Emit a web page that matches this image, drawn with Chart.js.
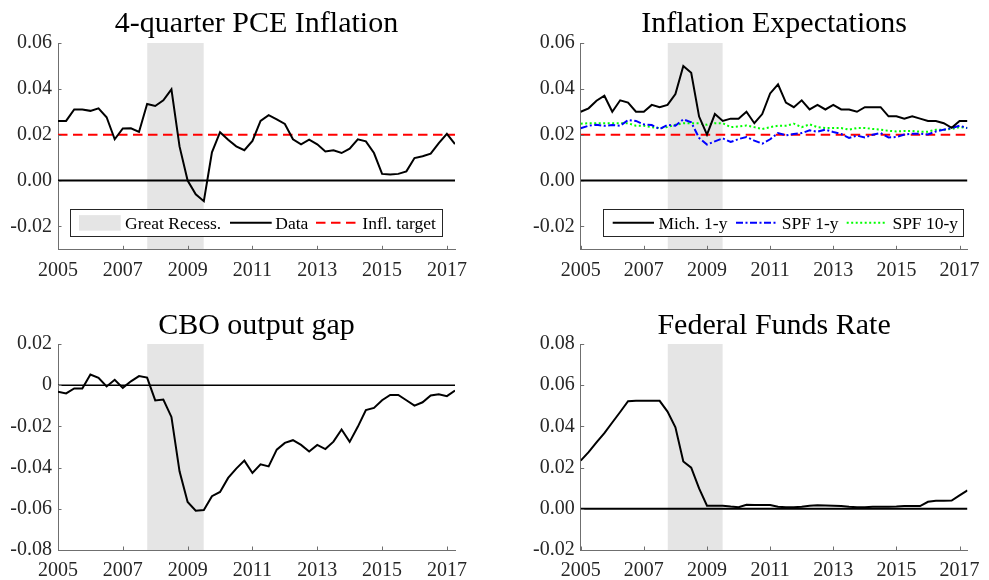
<!DOCTYPE html>
<html><head><meta charset="utf-8">
<script src="https://cdn.jsdelivr.net/npm/chart.js@4/dist/chart.umd.min.js"></script>
<style>
html,body{margin:0;padding:0;background:#fff;}
#wrap{position:relative;width:989px;height:580px;overflow:hidden;background:#fff}
canvas{position:absolute}
</style></head><body><div id="wrap">
<canvas id="c1" width="494" height="290" style="left:0;top:0"></canvas>
<canvas id="c2" width="499" height="290" style="left:490px;top:0"></canvas>
<canvas id="c3" width="494" height="290" style="left:0;top:290px"></canvas>
<canvas id="c4" width="499" height="290" style="left:490px;top:290px"></canvas>
</div>
<script>
// ---------- data ----------
const quarters = ['2005Q1','2005Q2','2005Q3','2005Q4','2006Q1','2006Q2','2006Q3','2006Q4',
'2007Q1','2007Q2','2007Q3','2007Q4','2008Q1','2008Q2','2008Q3','2008Q4',
'2009Q1','2009Q2','2009Q3','2009Q4','2010Q1','2010Q2','2010Q3','2010Q4',
'2011Q1','2011Q2','2011Q3','2011Q4','2012Q1','2012Q2','2012Q3','2012Q4',
'2013Q1','2013Q2','2013Q3','2013Q4','2014Q1','2014Q2','2014Q3','2014Q4',
'2015Q1','2015Q2','2015Q3','2015Q4','2016Q1','2016Q2','2016Q3','2016Q4',
'2017Q1','2017Q2'];
const yearTicks = [2005,2007,2009,2011,2013,2015,2017];
const recession = [2007.75, 2009.5];
const inflTarget = 0.02;

const pce = [0.026,0.026,0.031,0.031,0.0304,0.0315,0.0276,0.018,0.0227,0.0228,
0.0212,0.0334,0.0325,0.035,0.0398,0.0149,0.0,-0.006,-0.009,0.0123,
0.0211,0.0178,0.0149,0.0132,0.0173,0.026,0.0285,0.0267,0.0247,0.018,
0.0158,0.0178,0.0158,0.0127,0.0132,0.012,0.0139,0.018,0.0171,0.012,
0.0029,0.0026,0.0029,0.004,0.0098,0.0106,0.0117,0.0163,0.0204,0.0159];

const mich1y = [0.030,0.0315,0.0348,0.037,0.030,0.035,0.034,0.030,0.030,0.033,
0.032,0.033,0.0377,0.050,0.047,0.0279,0.020,0.029,0.026,0.027,
0.027,0.030,0.025,0.029,0.038,0.042,0.034,0.032,0.035,0.031,
0.033,0.031,0.033,0.031,0.031,0.030,0.032,0.032,0.032,0.028,
0.028,0.027,0.028,0.027,0.026,0.026,0.025,0.023,0.026,0.026];

const spf1y = [0.0228,0.0239,0.0243,0.0239,0.0242,0.0239,0.0264,0.026,0.0245,0.0242,
0.0225,0.0243,0.0239,0.0267,0.0254,0.0186,0.0157,0.0171,0.0184,0.0168,
0.0181,0.019,0.0174,0.0161,0.018,0.0207,0.0197,0.0203,0.0207,0.0219,
0.0213,0.0222,0.0212,0.0203,0.0186,0.0196,0.0188,0.02,0.0207,0.0188,
0.019,0.0201,0.0204,0.0204,0.0201,0.0214,0.0222,0.0229,0.0239,0.0229];

const spf10y = [0.0248,0.025,0.025,0.025,0.025,0.025,0.025,0.0239,0.0239,0.0233,
0.0229,0.0233,0.0243,0.025,0.025,0.025,0.0243,0.025,0.025,0.0233,
0.0236,0.024,0.0233,0.0225,0.0233,0.0239,0.0239,0.0248,0.0233,0.0245,
0.0233,0.0229,0.0229,0.0229,0.0222,0.0229,0.0229,0.0225,0.0222,0.0217,
0.0214,0.0216,0.0216,0.0213,0.0213,0.0222,0.0222,0.0225,0.0233,0.0229];

const cboGap = [-0.0032,-0.004,-0.0016,-0.0016,0.0052,0.0036,-0.0006,0.0026,-0.0013,0.0019,
0.0044,0.0037,-0.0074,-0.007,-0.0154,-0.0418,-0.0567,-0.0609,-0.0606,-0.0539,
-0.0518,-0.045,-0.0405,-0.0366,-0.0426,-0.0384,-0.0394,-0.0313,-0.028,-0.0267,
-0.029,-0.0322,-0.029,-0.031,-0.0274,-0.0215,-0.0275,-0.0202,-0.0121,-0.011,
-0.0073,-0.0047,-0.0047,-0.0073,-0.0099,-0.0083,-0.005,-0.0044,-0.0053,-0.0026];

const ffr = [0.0234,0.0275,0.0322,0.0367,0.0419,0.047,0.0522,0.0524,0.0524,0.0524,
0.0524,0.0472,0.0396,0.023,0.020,0.0099,0.0015,0.0015,0.0015,0.0011,
0.0008,0.002,0.0018,0.0019,0.0018,0.001,0.0008,0.0008,0.001,0.0015,
0.0017,0.0016,0.0015,0.0013,0.001,0.0008,0.0008,0.001,0.001,0.001,
0.0011,0.0013,0.0013,0.0013,0.0034,0.0039,0.0039,0.004,0.0065,0.0089];

const inflRange = [-0.03, 0.06];
const inflTicks = [-0.02, 0, 0.02, 0.04, 0.06];
const inflTickLabels = ['-0.02','0.00','0.02','0.04','0.06'];
const gapRange = [-0.08, 0.02];
const gapTicks = [-0.08, -0.06, -0.04, -0.02, 0, 0.02];
const gapTickLabels = ['-0.08','-0.06','-0.04','-0.02','0','0.02'];
const ffrRange = [-0.02, 0.08];
const ffrTicks = [-0.02, 0, 0.02, 0.04, 0.06, 0.08];
const ffrTickLabels = ['-0.02','0.00','0.02','0.04','0.06','0.08'];

// ---------- helpers ----------
const SERIF = "'Liberation Serif','Times New Roman',serif";
const AXIS = '#6f6f6f';
const TICKC = '#262626';
function qx(q){ const p = q.split('Q'); return Number(p[0]) + (Number(p[1]) - 1) / 4; }
const xs = quarters.map(qx);
const xMin = xs[0], xMax = xs[xs.length - 1];
function series(vals){ return vals.map((v, i) => ({x: xs[i], y: v})); }
function hline(v){ return [{x: xMin, y: v}, {x: xMax, y: v}]; }

function shade(range){
  return {label: 'Great Recess.', data: [{x: recession[0], y: range[1]}, {x: recession[1], y: range[1]}],
    fill: 'start', backgroundColor: '#e5e5e5', borderColor: 'rgba(0,0,0,0)', borderWidth: 0,
    pointRadius: 0, order: 10};
}
function zeroLine(w){
  return {label: 'zero', data: hline(0), borderColor: '#000', borderWidth: w, pointRadius: 0, order: 8};
}
function targetLine(){
  return {label: 'Infl. target', data: hline(inflTarget), borderColor: '#ff0000', borderWidth: 2,
    borderDash: [9.5, 5.5], pointRadius: 0, order: 6};
}

const matlabPlugin = {
  id: 'matlabAxes',
  afterDraw(chart, args, opts){
    const ctx = chart.ctx, sx = chart.scales.x, sy = chart.scales.y, ca = chart.chartArea;
    ctx.save();
    ctx.strokeStyle = AXIS; ctx.lineWidth = 1; ctx.setLineDash([]);
    ctx.beginPath();
    sx.ticks.forEach(t => { const px = Math.round(sx.getPixelForValue(t.value)) + 0.5;
      ctx.moveTo(px, ca.bottom); ctx.lineTo(px, ca.bottom - 3.5); });
    sy.ticks.forEach(t => { const py = Math.round(sy.getPixelForValue(t.value)) + 0.5;
      ctx.moveTo(ca.left, py); ctx.lineTo(ca.left + 3.5, py); });
    ctx.stroke();
    const lg = opts && opts.legend;
    if (lg) {
      const L = ca.left, T = ca.top;
      const y0 = T + lg.y0, y1 = T + lg.y1, yc = (y0 + y1) / 2;
      ctx.fillStyle = '#fff';
      ctx.fillRect(L + lg.x0, y0, lg.x1 - lg.x0, y1 - y0);
      ctx.strokeStyle = '#262626'; ctx.lineWidth = 1;
      ctx.strokeRect(Math.round(L + lg.x0) + 0.5, Math.round(y0) + 0.5, Math.round(lg.x1 - lg.x0), Math.round(y1 - y0));
      lg.items.forEach(it => {
        const ds = chart.data.datasets[it.ds];
        if (it.patch) {
          ctx.fillStyle = ds.backgroundColor;
          ctx.fillRect(L + it.a, yc - 7.5, it.b - it.a, 15.5);
        } else {
          ctx.strokeStyle = ds.borderColor; ctx.lineWidth = ds.borderWidth;
          ctx.setLineDash(ds.borderDash || []);
          ctx.beginPath(); ctx.moveTo(L + it.a, yc); ctx.lineTo(L + it.b, yc); ctx.stroke();
          ctx.setLineDash([]);
        }
        ctx.fillStyle = '#000';
        ctx.font = '17.5px ' + SERIF;
        ctx.textAlign = 'left'; ctx.textBaseline = 'alphabetic';
        ctx.fillText(ds.label, L + it.t, yc + 6.3);
      });
    }
    ctx.restore();
  }
};

function makeChart(id, o){
  return new Chart(document.getElementById(id), {
    type: 'line',
    data: {datasets: o.datasets},
    plugins: [matlabPlugin],
    options: {
      responsive: false, animation: false, devicePixelRatio: 1,
      events: [],
      layout: {padding: {left: 0, right: o.padRight, top: 0, bottom: 0}},
      elements: {line: {tension: 0, borderCapStyle: 'butt', borderJoinStyle: 'miter'}, point: {radius: 0}},
      plugins: {
        legend: {display: false}, tooltip: {enabled: false},
        title: {display: true, text: o.title, color: '#000', fullSize: false,
          font: {family: SERIF, size: 30, weight: 'normal', lineHeight: 1},
          padding: {top: o.titleTop, bottom: o.titleBottom}},
        matlabAxes: {legend: o.legend || null}
      },
      scales: {
        x: {type: 'linear', min: xMin, max: xMax,
          grid: {display: false, drawTicks: false},
          border: {display: true, color: AXIS, width: 1},
          ticks: {font: {family: SERIF, size: 20}, color: TICKC, padding: 9, maxRotation: 0, autoSkip: false,
            callback: v => String(v)},
          afterBuildTicks: s => { s.ticks = yearTicks.map(v => ({value: v})); },
          afterFit: s => { s.height = o.xH; }},
        y: {type: 'linear', min: o.range[0], max: o.range[1],
          grid: {display: false, drawTicks: false},
          border: {display: true, color: AXIS, width: 1},
          ticks: {font: {family: SERIF, size: 20}, color: TICKC, padding: 6, autoSkip: false,
            callback: v => o.tickLabels[o.ticks.indexOf(v)]},
          afterBuildTicks: s => { s.ticks = o.ticks.map(v => ({value: v})); },
          afterFit: s => { s.width = o.yW; }}
      }
    }
  });
}

// Panel 1: PCE inflation
makeChart('c1', {
  title: '4-quarter PCE Inflation', titleTop: 9.5, titleBottom: 3.5, xH: 40.7, yW: 58, padRight: 39,
  range: inflRange, ticks: inflTicks, tickLabels: inflTickLabels,
  datasets: [
    shade(inflRange),
    {label: 'Data', data: series(pce), borderColor: '#000', borderWidth: 2, pointRadius: 0, order: 1},
    targetLine(),
    zeroLine(2)
  ],
  legend: {x0: 12, x1: 383.7, y0: 166.3, y1: 193, items: [
    {ds: 0, patch: true, a: 21, b: 62.7, t: 67},
    {ds: 1, a: 172, b: 213.7, t: 217.3},
    {ds: 2, a: 258, b: 300.3, t: 304.3}
  ]}
});

// Panel 2: Inflation expectations
makeChart('c2', {
  title: 'Inflation Expectations', titleTop: 9.5, titleBottom: 3.5, xH: 40.7, yW: 90.7, padRight: 12.3,
  range: inflRange, ticks: inflTicks, tickLabels: inflTickLabels,
  datasets: [
    shade(inflRange),
    {label: 'Mich. 1-y', data: series(mich1y), borderColor: '#000', borderWidth: 2, pointRadius: 0, order: 1},
    {label: 'SPF 1-y', data: series(spf1y), borderColor: '#0000ff', borderWidth: 2, borderDash: [7, 2.5, 2, 2.5], pointRadius: 0, order: 2},
    {label: 'SPF 10-y', data: series(spf10y), borderColor: '#00ff00', borderWidth: 2, borderDash: [2, 2.5], pointRadius: 0, order: 3},
    targetLine(),
    zeroLine(2)
  ],
  legend: {x0: 22.7, x1: 382.7, y0: 166.3, y1: 193, items: [
    {ds: 1, a: 32, b: 73.3, t: 77.7},
    {ds: 2, a: 155.3, b: 196.7, t: 201},
    {ds: 3, a: 266, b: 306, t: 311.7}
  ]}
});

// Panel 3: CBO output gap
makeChart('c3', {
  title: 'CBO output gap', titleTop: 21.5, titleBottom: 2.5, xH: 30, yW: 58, padRight: 39,
  range: gapRange, ticks: gapTicks, tickLabels: gapTickLabels,
  datasets: [
    shade(gapRange),
    {label: 'Output gap', data: series(cboGap), borderColor: '#000', borderWidth: 2, pointRadius: 0, order: 1},
    zeroLine(1.6)
  ]
});

// Panel 4: Federal funds rate
makeChart('c4', {
  title: 'Federal Funds Rate', titleTop: 21.5, titleBottom: 2.5, xH: 30, yW: 90.7, padRight: 12.3,
  range: ffrRange, ticks: ffrTicks, tickLabels: ffrTickLabels,
  datasets: [
    shade(ffrRange),
    {label: 'FFR', data: series(ffr), borderColor: '#000', borderWidth: 2, pointRadius: 0, order: 1},
    zeroLine(2)
  ]
});
</script>
</body></html>
